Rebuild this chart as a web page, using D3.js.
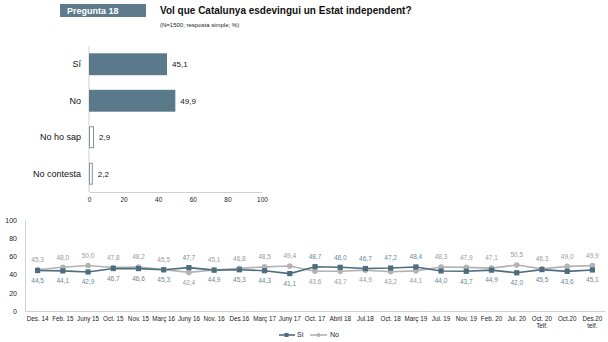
<!DOCTYPE html>
<html><head><meta charset="utf-8">
<script src="https://cdn.jsdelivr.net/npm/d3@7"></script>
<style>
html,body{margin:0;padding:0;background:#fff;}
svg{display:block;font-family:"Liberation Sans",Arial,sans-serif;}
</style></head>
<body>
<svg id="c" width="608" height="342"></svg>
<script>
// ---- data ----
const barCategories = ["Sí", "No", "No ho sap", "No contesta"];
const barValues = [45.1, 49.9, 2.9, 2.2];
const barTicks = [0, 20, 40, 60, 80, 100];

const periods = ["Des. 14","Feb. 15","Juny 15","Oct. 15","Nov. 15","Març 16","Juny 16","Nov. 16","Des.16","Març 17","Juny 17","Oct. 17","Abril 18","Jul.18","Oct. 18","Març 19","Jul. 19","Nov. 19","Feb. 20","Jul. 20","Oct. 20\nTelf.","Oct.20","Des.20\ntelf."];
const siValues = [44.5,44.1,42.9,46.7,46.6,45.3,47.7,44.9,45.3,44.3,41.1,48.7,48.0,46.7,47.2,48.4,44.0,43.7,44.9,42.0,45.5,43.6,45.1];
const noValues = [45.3,48.0,50.0,47.8,48.2,45.5,42.4,45.1,46.8,48.5,49.4,43.6,43.7,44.9,43.2,44.1,48.3,47.9,47.1,50.5,46.3,49.0,49.9];
const lineTicks = [0, 20, 40, 60, 80, 100];

const fmt = v => v.toFixed(1).replace(".", ",");
const blue = "#5a7a8b", lineBlue = "#4d6d7e", gray = "#b3b3b3";

const svg = d3.select("#c");

// ---- header ----
svg.append("rect").attr("x",60).attr("y",4).attr("width",86).attr("height",13).attr("fill","#5d7b8c");
svg.append("text").attr("x",67).attr("y",14).attr("fill","#fff").attr("font-weight","bold").attr("font-size",9).text("Pregunta 18");
svg.append("text").attr("x",160).attr("y",14).attr("fill","#111").attr("font-weight","bold").attr("font-size",10).text("Vol que Catalunya esdevingui un Estat independent?");
svg.append("text").attr("x",160).attr("y",27).attr("fill","#222").attr("font-size",6).text("(N=1500; resposta simple; %)");

// ---- bar chart ----
const bx = d3.scaleLinear().domain([0,100]).range([89,262]);
const by = d3.scaleBand().domain(barCategories).range([46,192]).paddingInner(0.4).paddingOuter(0.2);

const gBar = svg.append("g");
gBar.append("line").attr("x1",89).attr("x2",89).attr("y1",46).attr("y2",192).attr("stroke","#d0d0d0");
const bAxis = gBar.append("g").attr("transform","translate(0,192)")
  .call(d3.axisBottom(bx).tickValues(barTicks).tickSize(0).tickPadding(5));
bAxis.select(".domain").attr("stroke","#d0d0d0");
bAxis.selectAll("text").attr("font-size",6.5).attr("fill","#222").attr("font-family","Liberation Sans, Arial, sans-serif");

barCategories.forEach((c,i)=>{
  const v = barValues[i];
  const solid = i < 2;
  gBar.append("rect").attr("x", bx(0)+(solid?0:0.5)).attr("y", by(c)+(solid?0:0.5))
    .attr("width", bx(v)-bx(0)-(solid?0:1)).attr("height", by.bandwidth()-(solid?0:1))
    .attr("fill", solid ? blue : "#fff").attr("stroke", solid ? "none" : "#7f95a2").attr("stroke-width",1);
  gBar.append("text").attr("x", bx(v)+5).attr("y", by(c)+by.bandwidth()/2).attr("dy","0.35em")
    .attr("font-size",8).attr("fill","#111").text(fmt(v));
  gBar.append("text").attr("x",81).attr("y", by(c)+by.bandwidth()/2).attr("dy","0.35em")
    .attr("text-anchor","end").attr("font-size",9).attr("fill","#111").text(c);
});

// ---- line chart ----
const lx = d3.scaleBand().domain(periods).range([25,605]);
const ly = d3.scaleLinear().domain([0,100]).range([311,220]);
const cx = d => lx(d)+lx.bandwidth()/2;

const gL = svg.append("g");
const yAx = gL.append("g").attr("transform","translate(25,0)")
  .call(d3.axisLeft(ly).tickValues(lineTicks).tickSize(0).tickPadding(8));
yAx.select(".domain").attr("stroke","#d0d0d0");
yAx.selectAll("text").attr("font-size",7).attr("fill","#222").attr("font-family","Liberation Sans, Arial, sans-serif");

const xAx = gL.append("g").attr("transform","translate(0,311)")
  .call(d3.axisBottom(lx).tickSize(0).tickPadding(6).tickFormat(()=>""));
xAx.select(".domain").attr("stroke","#d0d0d0");
xAx.selectAll(".tick text").each(function(d){
  const t = d3.select(this).attr("font-size",6.3).attr("fill","#222").attr("font-family","Liberation Sans, Arial, sans-serif");
  d.split("\n").forEach((s,k)=>{
    t.append("tspan").attr("x",0).attr("dy", k===0 ? "0.71em" : "1.05em").text(s);
  });
});

const lineGen = vals => d3.line().x((d,i)=>cx(periods[i])).y(d=>ly(d))(vals);
gL.append("path").attr("d", lineGen(noValues)).attr("fill","none").attr("stroke",gray).attr("stroke-width",1.6);
gL.append("path").attr("d", lineGen(siValues)).attr("fill","none").attr("stroke",lineBlue).attr("stroke-width",1.6);

gL.selectAll(".noPt").data(noValues).join("circle").attr("class","noPt")
  .attr("cx",(d,i)=>cx(periods[i])).attr("cy",d=>ly(d)).attr("r",2.8).attr("fill",gray);
gL.selectAll(".siPt").data(siValues).join("rect").attr("class","siPt")
  .attr("x",(d,i)=>cx(periods[i])-2.6).attr("y",d=>ly(d)-2.6).attr("width",5.2).attr("height",5.2).attr("fill",lineBlue);

periods.forEach((p,i)=>{
  const s = siValues[i], n = noValues[i];
  const siAbove = s > n;
  gL.append("text").attr("x",cx(p)).attr("y", ly(s) + (siAbove ? -10 : 10)).attr("dy","0.35em")
    .attr("text-anchor","middle").attr("font-size",6.5).attr("fill","#6a8797").text(fmt(s));
  gL.append("text").attr("x",cx(p)).attr("y", ly(n) + (siAbove ? 10 : -10)).attr("dy","0.35em")
    .attr("text-anchor","middle").attr("font-size",6.5).attr("fill","#9a9a9a").text(fmt(n));
});

// legend
const lg = svg.append("g").attr("transform","translate(0,335)");
lg.append("line").attr("x1",279).attr("x2",295).attr("y1",0).attr("y2",0).attr("stroke",lineBlue).attr("stroke-width",1.6);
lg.append("rect").attr("x",284.5).attr("y",-2).attr("width",4).attr("height",4).attr("fill",lineBlue);
lg.append("text").attr("x",297).attr("y",0).attr("dy","0.35em").attr("font-size",7).attr("fill","#222").text("Sí");
lg.append("line").attr("x1",310).attr("x2",327).attr("y1",0).attr("y2",0).attr("stroke",gray).attr("stroke-width",1.6);
lg.append("circle").attr("cx",318.5).attr("cy",0).attr("r",2).attr("fill",gray);
lg.append("text").attr("x",330).attr("y",0).attr("dy","0.35em").attr("font-size",7).attr("fill","#222").text("No");
</script>
</body></html>
